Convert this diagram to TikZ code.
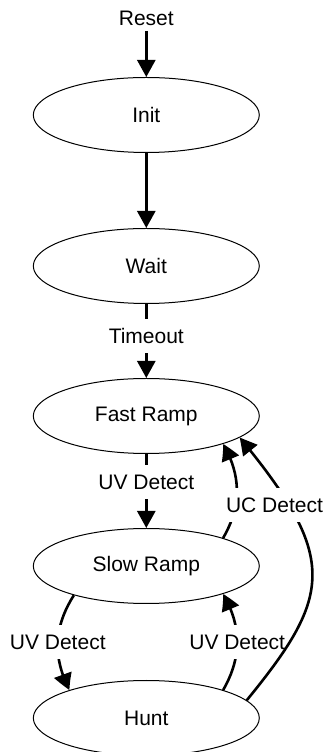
\documentclass[tikz,border=0pt]{standalone}
\usepackage{fontspec}
\setmainfont{Liberation Sans}
\usetikzlibrary{arrows.meta,shapes.geometric,bending}
\begin{document}
\begin{tikzpicture}[x=1pt,y=1pt,
  state/.style={ellipse,draw,line width=1pt,minimum width=226pt,minimum height=75pt,inner sep=0pt},
  edge/.style={line width=2.6pt,-{Triangle[length=17pt,width=18pt,bend]}},
  lab/.style={fill=white,inner xsep=4pt,inner ysep=9.5pt},
  every node/.style={font=\fontsize{21}{25}\selectfont}]
\useasboundingbox (0,0) rectangle (323,752);
\node[inner sep=5pt] (reset) at (146.3,733.6) {Reset};
\node[state] (init) at (146.3,637) {Init};
\node[state] (wait) at (146.3,486) {Wait};
\node[state] (fast) at (146.3,336) {Fast Ramp};
\node[state] (slow) at (146.3,186) {Slow Ramp};
\node[state] (hunt) at (146.3,34) {Hunt};
\draw[edge] (reset) -- (init);
\draw[edge] (init) -- (wait);
\draw[edge] (wait) -- node[lab,pos=0.43] {Timeout} (fast);
\draw[edge] (fast) -- node[lab,pos=0.38] {UV Detect} (slow);
\draw[edge] (slow.-158) to[bend right=30] node[lab] {UV Detect} (hunt.160);
\draw[edge] (hunt.20) to[bend right=30] node[lab] {UV Detect} (slow.-20);
\draw[edge] (slow.20) to[bend right=30] (fast.-20);
\draw[edge] (hunt.10) .. controls (332,156) and (339,194) .. (fast.-13);
\node[fill=white,inner xsep=8pt,inner ysep=10pt] (uc) at (274.5,247) {UC Detect};
\end{tikzpicture}
\end{document}
